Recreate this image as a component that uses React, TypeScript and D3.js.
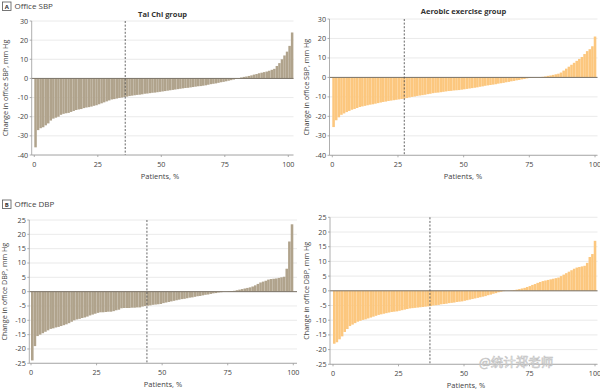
import React from "react";
import * as d3 from "d3";

// ---- Data (sorted individual changes) ----
const taiChiSBP = [-36, -27, -26, -25.5, -24.5, -23.5, -22, -21, -20.5, -20, -19, -18.5, -18.2, -18, -17.5, -17, -16.5, -16.2, -16, -15.5, -15.2, -15, -14.7, -14.3, -14, -13.5, -13, -12.5, -12, -11.5, -11, -10.8, -10.5, -10.2, -10, -9.7, -9.5, -9.2, -9, -8.8, -8.6, -8.5, -8.3, -8, -7.9, -7.7, -7.5, -7.4, -7.2, -7, -6.8, -6.6, -6.4, -6.2, -6, -5.8, -5.6, -5.4, -5.2, -5, -4.9, -4.7, -4.5, -4.3, -4.1, -4, -3.8, -3.6, -3.3, -3, -2.8, -2.6, -2.3, -2, -1.8, -1.5, -1.2, -0.9, -0.6, -0.3, 0.2, 0.5, 0.8, 1, 1.3, 1.6, 2, 2.3, 2.7, 3, 3.3, 3.6, 4, 4.5, 5, 6.5, 8, 10, 12, 14, 17, 24];
const aerobicSBP = [-25.5, -22, -20.5, -19.2, -18.5, -17.8, -17.2, -16.6, -16.2, -15.7, -15.2, -14.9, -14.6, -14.3, -14, -13.8, -13.5, -13.2, -12.9, -12.6, -12.4, -12.1, -11.9, -11.7, -11.5, -11.3, -11.1, -10.9, -10.6, -10.3, -10, -9.8, -9.5, -9.3, -9.1, -8.9, -8.6, -8.4, -8.1, -7.9, -7.8, -7.6, -7.4, -7.2, -7, -6.9, -6.7, -6.6, -6.5, -6.3, -6.1, -5.9, -5.7, -5.5, -5.3, -5.1, -4.8, -4.6, -4.3, -4.1, -3.9, -3.7, -3.5, -3.2, -3, -2.8, -2.5, -2.3, -2, -1.8, -1.5, -1.3, -1, -0.8, -0.5, -0.3, -0.1, 0, 0, 0.1, 0.3, 0.5, 0.8, 1, 1.3, 1.6, 1.9, 2.5, 3.5, 4.5, 5.5, 6.5, 7.5, 8.5, 9.5, 10.5, 12, 13.5, 14.5, 16, 21];
const taiChiDBP = [-24, -19, -15.5, -15, -14.5, -14, -13.5, -13, -12.8, -12.5, -12.3, -12, -11.7, -11.4, -11, -10.5, -10, -9.7, -9.5, -9.2, -9, -8.7, -8.3, -8, -7.7, -7.4, -7.2, -7.2, -7.1, -7, -7, -6.8, -6.5, -6.3, -5.8, -5.7, -5.7, -5.7, -5.6, -5.6, -5.5, -5.5, -5.2, -5, -4.9, -4.8, -4.6, -4.5, -4.4, -4.3, -4, -3.8, -3.6, -3.4, -3.2, -3, -2.8, -2.6, -2.5, -2.3, -2.1, -2, -1.8, -1.6, -1.5, -1.3, -1.1, -1, -0.8, -0.6, -0.5, -0.3, -0.2, 0, 0, 0.1, 0.2, 0.3, 0.5, 0.7, 0.9, 1.1, 1.3, 1.5, 1.8, 2.2, 2.7, 3.2, 3.5, 3.8, 4.2, 4.4, 4.5, 4.6, 4.8, 5, 5.2, 8, 17.5, 23.5];
const aerobicDBP = [-18, -17.5, -16.5, -15.5, -14, -13, -12, -11.5, -11, -10.5, -10.2, -9.9, -9.7, -9.4, -9.1, -8.8, -8.5, -8.2, -8, -7.8, -7.6, -7.4, -7.2, -7.1, -7, -6.8, -6.6, -6.4, -6.2, -6, -5.9, -5.8, -5.7, -5.6, -5.5, -5.4, -5.3, -5.2, -5, -4.9, -4.8, -4.6, -4.5, -4.4, -4.2, -4.1, -4, -3.8, -3.7, -3.6, -3.4, -3.2, -3, -2.8, -2.6, -2.4, -2.2, -2, -1.8, -1.5, -1.3, -1, -0.8, -0.5, -0.3, -0.1, 0, 0, 0.1, 0.2, 0.4, 0.6, 0.8, 1, 1.3, 1.6, 2, 2.3, 2.7, 3, 3.3, 3.5, 3.7, 3.9, 4.1, 4.3, 4.5, 5, 5.5, 6, 6.5, 7, 7.5, 7.9, 8.1, 8.3, 8.5, 9.5, 11.5, 12.5, 17];

// dashed reference line position (% of patients)
const dashedSBP = [35.8, 27.4];
const dashedDBP = [44.2, 37];

const xTicks = [0, 25, 50, 75, 100];
const sbpTicks = [-40, -30, -20, -10, 0, 10, 20, 30];
const dbpTicks = [-25, -20, -15, -10, -5, 0, 5, 10, 15, 20, 25];

const groupTitles = ["Tai Chi group", "Aerobic exercise group"];
const sectionLabels = [
  { letter: "A", text: "Office SBP" },
  { letter: "B", text: "Office DBP" },
];
const yTitles = ["Change in office SBP, mm Hg", "Change in office DBP, mm Hg"];
const xTitle = "Patients, %";
const watermark = "@统计郑老师";

const TAICHI = "#b0a38c";
const AEROBIC = "#fcc77e";
const FONT = "'Open Sans', 'Noto Sans', Arial, sans-serif";

type Layout = {
  left: number; x0: number; x100: number; right: number;
  yTop: number; yBot: number; span: number; xTitleX: number; yTitleX: number;
};

function Panel({ values, color, layout, domain, ticks, dashed, yTitle, title, titleY }: {
  values: number[]; color: string; layout: Layout; domain: [number, number];
  ticks: number[]; dashed: number; yTitle: string; title?: string; titleY?: number;
}) {
  const xs = d3.scaleLinear().domain([0, 100]).range([layout.x0, layout.x100]);
  const ys = d3.scaleLinear().domain(domain).range([layout.yBot, layout.yTop]);
  const band = d3.scaleBand<number>()
    .domain(d3.range(values.length))
    .range([xs(0), xs(layout.span)])
    .paddingInner(0.02);
  const midY = (layout.yTop + layout.yBot) / 2;
  return (
    <g>
      {ticks.map((t) => (
        <line key={"g" + t} x1={layout.left} x2={layout.right} y1={ys(t)} y2={ys(t)} stroke="#e4e4e4" strokeWidth={0.8} />
      ))}
      {values.map((v, i) => (
        <rect key={i} x={band(i)!} width={band.bandwidth()} y={Math.min(ys(v), ys(0))} height={Math.abs(ys(v) - ys(0))} fill={color} />
      ))}
      <line x1={layout.left} x2={layout.right} y1={ys(0)} y2={ys(0)} stroke="#7c7468" strokeWidth={1} />
      <line x1={xs(dashed)} x2={xs(dashed)} y1={layout.yTop} y2={layout.yBot} stroke="#555" strokeWidth={0.9} strokeDasharray="2,1.6" />
      <line x1={layout.left} x2={layout.left} y1={layout.yTop} y2={layout.yBot} stroke="#9a9a9a" strokeWidth={0.8} />
      <line x1={layout.left} x2={layout.right} y1={layout.yBot} y2={layout.yBot} stroke="#9a9a9a" strokeWidth={0.8} />
      {ticks.map((t) => (
        <g key={"yt" + t}>
          <line x1={layout.left - 2} x2={layout.left} y1={ys(t)} y2={ys(t)} stroke="#9a9a9a" strokeWidth={0.8} />
          <text x={layout.left - 3.5} y={ys(t) + 2.5} fontSize={7.2} textAnchor="end" fill="#444" fontFamily={FONT}>{t}</text>
        </g>
      ))}
      {xTicks.map((t) => (
        <g key={"xt" + t}>
          <line x1={xs(t)} x2={xs(t)} y1={layout.yBot} y2={layout.yBot + 2} stroke="#9a9a9a" strokeWidth={0.8} />
          <text x={xs(t)} y={layout.yBot + 11.5} fontSize={7.2} textAnchor="middle" fill="#444" fontFamily={FONT}>{t}</text>
        </g>
      ))}
      <text x={layout.xTitleX} y={layout.yBot + 24} fontSize={7.5} textAnchor="middle" fill="#444" fontFamily={FONT}>{xTitle}</text>
      <text transform={`translate(${layout.yTitleX},${midY}) rotate(-90)`} fontSize={7.2} textAnchor="middle" fill="#444" fontFamily={FONT}>{yTitle}</text>
      {title && (
        <text x={(layout.left + layout.right) / 2} y={titleY} fontSize={7.5} fontWeight="bold" textAnchor="middle" fill="#333" fontFamily={FONT}>{title}</text>
      )}
    </g>
  );
}

function SectionLabel({ y, letter, text }: { y: number; letter: string; text: string }) {
  return (
    <g>
      <rect x={2.5} y={y - 4.5} width={8.5} height={8.5} fill="#fff" stroke="#555" strokeWidth={0.8} />
      <text x={6.75} y={y + 2.2} fontSize={6} fontWeight="bold" textAnchor="middle" fill="#333" fontFamily={FONT}>{letter}</text>
      <text x={14.5} y={y + 2.8} fontSize={8} fill="#444" fontFamily={FONT}>{text}</text>
    </g>
  );
}

export default function App() {
  const L = {
    tl: { left: 31.7, x0: 34.3, x100: 288.3, right: 293.5, yTop: 21, yBot: 155, span: 102, xTitleX: 160, yTitleX: 7.5 },
    tr: { left: 329.5, x0: 332.3, x100: 595, right: 597.5, yTop: 19, yBot: 155.3, span: 100.5, xTitleX: 463, yTitleX: 309 },
    bl: { left: 29.3, x0: 31, x100: 293.3, right: 297, yTop: 220, yBot: 363.3, span: 100, xTitleX: 163, yTitleX: 6.5 },
    br: { left: 330, x0: 333, x100: 595, right: 597.5, yTop: 217.3, yBot: 364.3, span: 100.5, xTitleX: 466, yTitleX: 308.5 },
  };
  return (
    <svg width={600} height={389} style={{ position: "absolute", left: 0, top: 0, background: "#fff" }}>
      <rect width={600} height={389} fill="#fff" />
      <SectionLabel y={6.5} letter={sectionLabels[0].letter} text={sectionLabels[0].text} />
      <SectionLabel y={204.5} letter={sectionLabels[1].letter} text={sectionLabels[1].text} />
      <Panel values={taiChiSBP} color={TAICHI} layout={L.tl} domain={[-40, 30]} ticks={sbpTicks} dashed={dashedSBP[0]} yTitle={yTitles[0]} title={groupTitles[0]} titleY={16.5} />
      <Panel values={aerobicSBP} color={AEROBIC} layout={L.tr} domain={[-40, 30]} ticks={sbpTicks} dashed={dashedSBP[1]} yTitle={yTitles[0]} title={groupTitles[1]} titleY={13.5} />
      <Panel values={taiChiDBP} color={TAICHI} layout={L.bl} domain={[-25, 25]} ticks={dbpTicks} dashed={dashedDBP[0]} yTitle={yTitles[1]} />
      <Panel values={aerobicDBP} color={AEROBIC} layout={L.br} domain={[-25, 25]} ticks={dbpTicks} dashed={dashedDBP[1]} yTitle={yTitles[1]} />
      <g opacity={0.85}>
        <text x={479} y={366.5} fontSize={12.5} fill="#fff" stroke="#b5b5b5" strokeWidth={0.6} fontFamily="'Noto Sans CJK SC', sans-serif">{watermark}</text>
      </g>
    </svg>
  );
}
